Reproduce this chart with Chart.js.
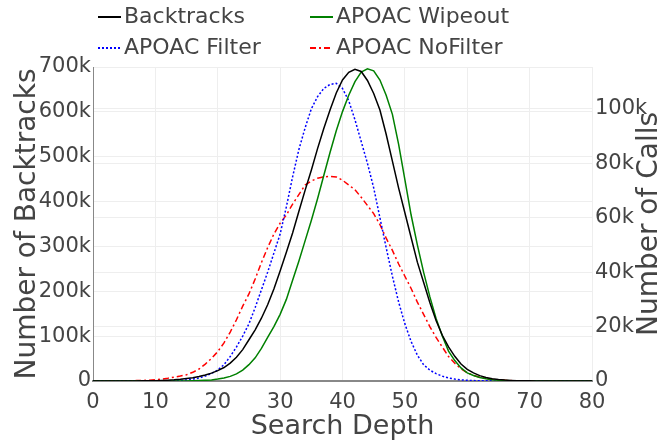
<!DOCTYPE html>
<html>
<head>
<meta charset="utf-8">
<script src="https://cdn.jsdelivr.net/npm/chart.js@4"></script>
<style>
  body { margin: 0; background: #fff; }
  #wrap { width: 660px; height: 443px; position: relative; }
</style>
</head>
<body>
<div id="wrap"><canvas id="depthChart"></canvas></div>
<script>
// search depth 0..80
const depths = Array.from({ length: 81 }, (_, i) => i);

// backtracks, in thousands (left axis)
const backtracks = [0, 0, 0, 0, 0, 0.1, 0.1, 0.2, 0.3, 0.5,
  0.8, 1.2, 1.8, 2.6, 3.8, 5.5, 7.5, 10, 13.5, 17.5,
  23, 30, 40, 53, 70, 92, 114, 140, 170, 205,
  245, 287, 330, 378, 425, 470, 518, 563, 604, 642,
  671, 688, 695, 690, 670, 641, 604, 550, 490, 430,
  375, 320, 265, 220, 175, 135, 102, 76, 55, 38,
  26, 18, 12, 8, 5, 3.2, 2, 1.3, 0.8, 0.5,
  0.3, 0.2, 0.1, 0.1, 0.05, 0, 0, 0, 0, 0, 0];

// number of calls, in thousands (right axis)
const wipeout = [0, 0, 0, 0, 0, 0, 0, 0, 0, 0,
  0, 0, 0, 0, 0, 0, 0.1, 0.15, 0.25, 0.4,
  0.7, 1.1, 1.7, 2.6, 4, 6, 8.5, 12, 16, 20,
  24.5, 30, 37, 44, 51.5, 59, 67, 75.5, 84, 92,
  99, 105, 110, 113.5, 114.7, 114, 110.6, 105, 98, 87,
  74, 61, 50, 40, 31, 23, 16.5, 11, 7.5, 4.8,
  3, 2, 1.3, 0.8, 0.5, 0.3, 0.2, 0.1, 0.05, 0.05,
  0, 0, 0, 0, 0, 0, 0, 0, 0, 0, 0];

const filter = [0, 0, 0, 0, 0, 0, 0, 0, 0, 0,
  0, 0, 0, 0.1, 0.2, 0.4, 0.7, 1.1, 1.8, 2.8,
  4, 6, 9, 12.5, 16.5, 21, 27, 33.5, 40, 47,
  54, 64, 75, 85, 93, 100, 104.5, 107.5, 109, 109.4,
  107.5, 103, 96, 88, 80, 71, 60, 49, 38.5, 29,
  21, 14.5, 9.5, 6, 4, 2.7, 1.8, 1.1, 0.7, 0.4,
  0.25, 0.15, 0.1, 0.05, 0.05, 0, 0, 0, 0, 0,
  0, 0, 0, 0, 0, 0, 0, 0, 0, 0, 0];

const noFilter = [0, 0, 0, 0, 0, 0, 0.1, 0.15, 0.2, 0.3,
  0.5, 0.7, 1, 1.4, 1.8, 2.3, 3.2, 4.4, 6.2, 8.3,
  10.8, 14, 18, 22.5, 27.5, 32, 37.5, 43.5, 49, 54,
  58, 61, 65, 68.5, 72, 73.5, 74.5, 75, 75.2, 75,
  73.8, 72, 70.3, 67.5, 64.5, 61.5, 57.5, 52.5, 48, 43,
  38.5, 34, 29, 24.5, 20, 16, 12.5, 9, 6.5, 4.5,
  3, 2.1, 1.4, 0.9, 0.6, 0.4, 0.25, 0.15, 0.1, 0.1,
  0.05, 0.05, 0, 0, 0, 0, 0, 0, 0, 0, 0];

const leftTicks = [0, 100, 200, 300, 400, 500, 600, 700];
const rightTicks = [0, 20, 40, 60, 80, 100];
const xTicks = [0, 10, 20, 30, 40, 50, 60, 70, 80];

const FONT = '"DejaVu Sans"';
const TEXT = '#444';
const kLabel = v => (v === 0 ? '0' : v + 'k');

const toPoints = arr => depths.map((d, i) => ({ x: d, y: arr[i] }));

// legend laid out 2x2 and right title reading bottom-to-top
const overlay = {
  id: 'overlay',
  afterDraw(chart) {
    const ctx = chart.ctx;
    ctx.save();
    ctx.font = '22px ' + FONT;
    ctx.fillStyle = TEXT;
    ctx.textBaseline = 'middle';
    chart.data.datasets.forEach((ds, i) => {
      const x = i % 2 ? 310 : 98;
      const y = i < 2 ? 17 : 48;
      ctx.strokeStyle = ds.borderColor;
      ctx.lineWidth = 2;
      ctx.setLineDash(ds.borderDash || []);
      ctx.beginPath();
      ctx.moveTo(x, y);
      ctx.lineTo(x + 23, y);
      ctx.stroke();
      ctx.setLineDash([]);
      ctx.fillText(ds.label, x + 26, y);
    });
    ctx.font = '28px ' + FONT;
    ctx.textAlign = 'center';
    ctx.translate(650, 224);
    ctx.rotate(-Math.PI / 2);
    ctx.fillText('Number of Calls', 0, 0);
    ctx.restore();
  }
};

const ctx = document.getElementById('depthChart').getContext('2d');
new Chart(ctx, {
  type: 'line',
  data: {
    datasets: [
      { label: 'Backtracks', data: toPoints(backtracks), yAxisID: 'y', borderColor: '#000000' },
      { label: 'APOAC Wipeout', data: toPoints(wipeout), yAxisID: 'y2', borderColor: '#008000' },
      { label: 'APOAC Filter', data: toPoints(filter), yAxisID: 'y2', borderColor: '#0000ff', borderDash: [2, 2] },
      { label: 'APOAC NoFilter', data: toPoints(noFilter), yAxisID: 'y2', borderColor: '#ff0000', borderDash: [6, 3, 2, 3] }
    ]
  },
  options: {
    responsive: true,
    maintainAspectRatio: false,
    animation: false,
    elements: {
      line: { borderWidth: 1.5, tension: 0, fill: false },
      point: { radius: 0 }
    },
    layout: { padding: { top: 67, left: 0, right: 0, bottom: 0 } },
    plugins: { legend: { display: false }, tooltip: { enabled: false } },
    scales: {
      x: {
        type: 'linear',
        min: 0, max: 80,
        afterFit: s => { s.height = 62; },
        afterBuildTicks: s => { s.ticks = xTicks.map(v => ({ value: v })); },
        ticks: { font: { family: FONT, size: 21 }, color: TEXT, padding: 9, maxRotation: 0 },
        grid: { color: '#eeeeee', drawTicks: false },
        border: { color: '#888888', width: 2 },
        title: { display: true, text: 'Search Depth', font: { family: FONT, size: 27 }, color: TEXT, padding: { top: 0, bottom: 0 } }
      },
      y: {
        position: 'left',
        min: 0, max: 700,
        afterFit: s => { s.width = 93; },
        afterBuildTicks: s => { s.ticks = leftTicks.map(v => ({ value: v })); },
        ticks: { font: { family: FONT, size: 21 }, color: TEXT, padding: 2, callback: kLabel },
        grid: { color: '#eeeeee', drawTicks: false },
        border: { color: '#888888', width: 1 },
        title: { display: true, text: 'Number of Backtracks', font: { family: FONT, size: 28 }, color: TEXT, padding: { top: 11, bottom: 0 } }
      },
      y2: {
        position: 'right',
        min: 0, max: 115.4,
        afterFit: s => { s.width = 68; },
        afterBuildTicks: s => { s.ticks = rightTicks.map(v => ({ value: v })); },
        ticks: { font: { family: FONT, size: 21 }, color: TEXT, padding: 3, callback: kLabel },
        grid: { color: '#eeeeee', drawTicks: false },
        border: { display: false }
      }
    }
  },
  plugins: [overlay]
});
</script>
</body>
</html>
